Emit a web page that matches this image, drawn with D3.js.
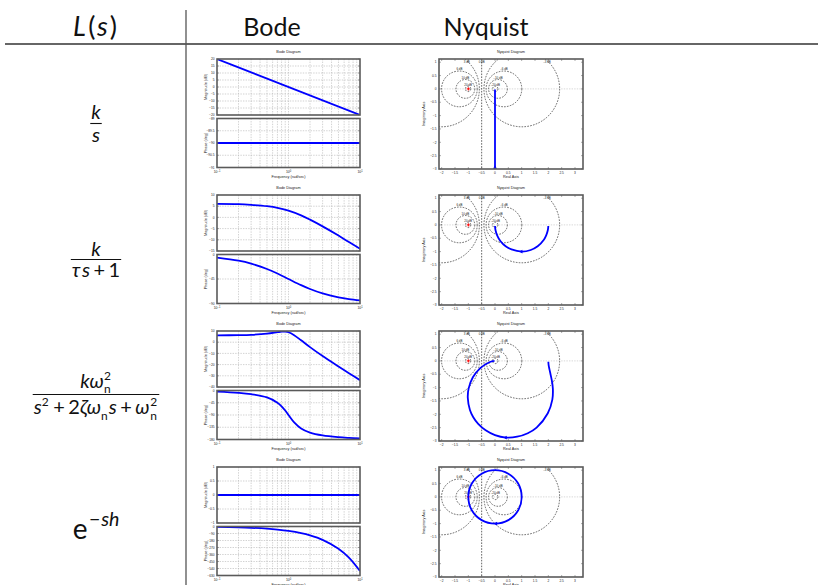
<!DOCTYPE html>
<html>
<head>
<meta charset="utf-8">
<script src="https://cdn.jsdelivr.net/npm/d3@7"></script>
<style>
  html, body { margin: 0; padding: 0; background: #fff; }
  svg { display: block; }
</style>
</head>
<body>
<svg id="chart" width="818" height="585"></svg>
<script>
// ---------- table header ----------
const headerLabels = ["Bode", "Nyquist"];

// ---------- Bode data (frequency in rad/s, magnitude in dB, phase in deg) ----------
const wEnds = [0.1, 10];
const magIntegrator = [20, -20];
const phaseIntegrator = [-90, -90];

const wLag = [0.1, 0.2, 0.3, 0.5, 0.7, 1, 1.5, 2, 3, 5, 7, 10];
const magLag = [6.0, 5.9, 5.6, 5.0, 4.3, 3.0, 0.9, -1.0, -4.0, -8.1, -11.0, -14.0];
const phaseLag = [-5.7, -11.3, -16.7, -26.6, -35.0, -45.0, -56.3, -63.4, -71.6, -78.7, -81.9, -84.3];

const wSecond = [0.1, 0.2, 0.3, 0.5, 0.7, 0.8, 0.9, 1, 1.2, 1.5, 2, 3, 5, 7, 10];
const magSecond = [6.1, 6.3, 6.6, 7.6, 8.9, 9.4, 9.4, 8.9, 6.3, 1.7, -4.4, -12.4, -21.7, -27.7, -33.9];
const phaseSecond = [-4.2, -8.5, -13.4, -25.6, -44.7, -58.0, -73.7, -90.0, -117.0, -139.2, -154.4, -164.9, -171.5, -174.0, -175.8];

const magDelay = [0, 0];
const wDelay = [0.1, 0.2, 0.3, 0.5, 0.7, 1, 1.5, 2, 3, 5, 7, 10];
const phaseDelay = [-5.7, -11.5, -17.2, -28.6, -40.1, -57.3, -85.9, -114.6, -171.9, -286.5, -401.1, -573.0];

// axis ranges and ticks of each Bode panel
const magDomains = [[-20, 20], [-15, 10], [-40, 10], [-1, 1]];
const magTicks = [[-20, -15, -10, -5, 0, 5, 10, 15, 20], [-15, -10, -5, 0, 5, 10], [-40, -30, -20, -10, 0, 10], [-1, -0.5, 0, 0.5, 1]];
const phaseDomains = [[-91, -89], [-90, 0], [-180, 0], [-630, 0]];
const phaseTicks = [[-91, -90.5, -90, -89.5, -89], [-90, -45, 0], [-180, -135, -90, -45, 0], [-630, -540, -450, -360, -270, -180, -90, 0]];
const freqTickExp = [-1, 0, 1];

// ---------- Nyquist data (real, imaginary) ----------
const nyqIntegratorRe = [0, 0];
const nyqIntegratorIm = [-0.02, -3.2];

const nyqLagRe = [2.0, 1.98, 1.92, 1.84, 1.6, 1.34, 1.0, 0.62, 0.4, 0.2, 0.08, 0.02, 0.0];
const nyqLagIm = [-0.04, -0.2, -0.39, -0.55, -0.8, -0.94, -1.0, -0.92, -0.8, -0.6, -0.39, -0.2, -0.04];

const nyqSecondRe = [2.0, 2.01, 2.04, 2.08, 2.13, 2.17, 2.15, 1.98, 1.56, 1.23, 0.83, 0.41, 0.0, -0.35, -0.63, -0.82, -0.94, -1.02, -0.99, -0.83, -0.54, -0.23, -0.08, -0.02];
const nyqSecondIm = [-0.03, -0.15, -0.31, -0.49, -0.73, -1.04, -1.45, -1.96, -2.5, -2.71, -2.84, -2.87, -2.78, -2.6, -2.36, -2.1, -1.84, -1.39, -1.04, -0.61, -0.26, -0.06, -0.01, 0.0];

const nyqDelayRe = [1, 0.87, 0.5, 0, -0.5, -0.87, -1, -0.87, -0.5, 0, 0.5, 0.87];
const nyqDelayIm = [0, -0.5, -0.87, -1, -0.87, -0.5, 0, 0.5, 0.87, 1, 0.87, 0.5];

// direction markers on the Nyquist curves: [re, im, direction]
const nyqArrows = [[0, -2.96, "up"], [1.0, -1.0, "left"], [0.41, -2.87, "left"], [0.05, -1.0, "left"]];

// constant closed-loop gain circles (dB)
const mCircleDb = [-20, -10, -6, -3, 0, 3, 6, 10, 20];

const nyqReDomain = [-2.1, 3.3];
const nyqImDomain = [-3, 1.12];
const nyqReTicks = [-2, -1.5, -1, -0.5, 0, 0.5, 1, 1.5, 2, 2.5, 3];
const nyqImTicks = [-3, -2.5, -2, -1.5, -1, -0.5, 0, 0.5, 1];

// ---------- layout ----------
const svg = d3.select("#chart");
const W = 818, H = 585;
const rowTop0 = 59, rowStep = 136;
const bodeX = [217, 360];
const nyqX = [439, 583];
const blue = "#0000ff";
const frame = "#5a5a5a";
const tinyFont = "'Liberation Sans', Arial, sans-serif";
const mathFont = "Lato, 'Open Sans', sans-serif";

const zip = (a, b) => a.map((v, i) => [v, b[i]]);

const rows = [
  { mag: zip(wEnds, magIntegrator), phase: zip(wEnds, phaseIntegrator), nyq: zip(nyqIntegratorRe, nyqIntegratorIm), closed: false },
  { mag: zip(wLag, magLag), phase: zip(wLag, phaseLag), nyq: zip(nyqLagRe, nyqLagIm), closed: false },
  { mag: zip(wSecond, magSecond), phase: zip(wSecond, phaseSecond), nyq: zip(nyqSecondRe, nyqSecondIm), closed: false },
  { mag: zip(wEnds, magDelay), phase: zip(wDelay, phaseDelay), nyq: zip(nyqDelayRe, nyqDelayIm), closed: true }
];

// ---------- table frame ----------
svg.append("line").attr("x1", 5).attr("x2", W).attr("y1", 44).attr("y2", 44)
  .attr("stroke", "#333").attr("stroke-width", 1.3);
svg.append("line").attr("x1", 186).attr("x2", 186).attr("y1", 10).attr("y2", H)
  .attr("stroke", "#555").attr("stroke-width", 1.3);

const headFont = 25;
const hL = svg.append("text").attr("x", 95).attr("y", 36).attr("text-anchor", "middle")
  .attr("font-family", mathFont).attr("font-size", 27).attr("fill", "#111");
hL.append("tspan").attr("font-style", "italic").text("L");
hL.append("tspan").attr("dx", 2.5).text("(");
hL.append("tspan").attr("dx", 1.5).attr("font-style", "italic").text("s");
hL.append("tspan").attr("dx", 2).text(")");
svg.selectAll("text.head").data(headerLabels).join("text").attr("class", "head")
  .attr("x", (d, i) => [272, 486][i]).attr("y", 36).attr("text-anchor", "middle")
  .attr("font-family", mathFont).attr("font-size", headFont).attr("fill", "#111")
  .text(d => d);

// ---------- math typesetting ----------
// Each formula is one <text>; its pieces are tspans placed at absolute positions.
// piece: {t, it, lpad, pad, rise, scale} or stacked scripts {sup, sub}
function layoutPieces(text, pieces, size, supRise, subDrop) {
  let x = 0;
  const spans = [];
  const ss = 0.6;
  const add = (str, italic, fs) => text.append("tspan").attr("font-size", fs)
    .attr("font-style", italic ? "italic" : "normal").text(str);
  pieces.forEach(p => {
    if (p.sup !== undefined || p.sub !== undefined) {
      let w = 0;
      if (p.sup !== undefined) {
        const ts = add(p.sup, false, size * ss);
        w = Math.max(w, ts.node().getComputedTextLength());
        spans.push({ ts, rx: x, dy: -size * (supRise || 0.42) });
      }
      if (p.sub !== undefined) {
        const ts = add(p.sub, false, size * ss);
        w = Math.max(w, ts.node().getComputedTextLength());
        spans.push({ ts, rx: x, dy: size * (subDrop || 0.26) });
      }
      x += w + 1;
    } else {
      x += p.lpad || 0;
      const ts = add(p.t, p.it, size * (p.scale || 1));
      spans.push({ ts, rx: x, dy: -(p.rise || 0) * size });
      x += ts.node().getComputedTextLength() + (p.pad || 0);
    }
  });
  return { width: x, place: (x0, base) => spans.forEach(s => s.ts.attr("x", x0 + s.rx).attr("y", base + s.dy)) };
}

function fraction(cx, barY, num, den, size, numUp, denDown, denSupRise) {
  const text = svg.append("text").attr("font-family", mathFont).attr("fill", "#111");
  const n = layoutPieces(text, num, size);
  const d = layoutPieces(text, den, size, denSupRise, 0.32);
  n.place(cx - n.width / 2, barY - numUp);
  d.place(cx - d.width / 2, barY + denDown);
  const wBar = Math.max(n.width, d.width) + 2;
  svg.append("line").attr("x1", cx - wBar / 2).attr("x2", cx + wBar / 2)
    .attr("y1", barY).attr("y2", barY).attr("stroke", "#111").attr("stroke-width", 1.1);
}

const plus = { t: "+", lpad: 3.5, pad: 3.5 };
const mathSize = 20;
fraction(96, 123.5, [{ t: "k", it: true }], [{ t: "s", it: true }], mathSize, 4.5, 18);
fraction(96, 259.5, [{ t: "k", it: true }],
  [{ t: "τ", it: true, pad: 1.5 }, { t: "s", it: true }, plus, { t: "1" }], mathSize, 4, 17.5);
fraction(96, 394.5,
  [{ t: "kω", it: true }, { sup: "2", sub: "n" }],
  [{ t: "s", it: true }, { sup: "2" }, plus, { t: "2" }, { t: "ζω", it: true }, { sub: "n" }, { t: "s", it: true }, plus, { t: "ω", it: true, pad: 0.8 }, { sup: "2", sub: "n" }],
  mathSize, 6.5, 19, 0.36);
{
  const text = svg.append("text").attr("font-family", mathFont).attr("fill", "#111");
  const e = layoutPieces(text, [
    { t: "e", pad: 1.5 },
    { t: "−", rise: 0.46, scale: 0.7, pad: 0.8 },
    { t: "sh", it: true, rise: 0.46, scale: 0.7 }
  ], 28);
  e.place(96 - e.width / 2, 539);
}

// ---------- Bode plots ----------
const xLog = d3.scaleLog().domain([0.1, 10]).range(bodeX);
const minorFreqs = [];
[0.1, 1].forEach(dec => { for (let k = 2; k <= 9; k++) minorFreqs.push(dec * k); });
minorFreqs.push(1);

function tinyText(g, x, y, txt, anchor, size) {
  return g.append("text").attr("x", x).attr("y", y).attr("text-anchor", anchor || "middle")
    .attr("font-family", tinyFont).attr("font-size", size || 3.6).attr("fill", "#222").text(txt);
}

function fmt(v) { return String(v).replace("-", "−"); }

function drawPanel(g, y0, y1, domain, ticks, data, ylabel, showX) {
  const y = d3.scaleLinear().domain(domain).range([y1, y0]);
  const clipId = "clip" + Math.round(y0) + "_" + bodeX[0];
  g.append("clipPath").attr("id", clipId).append("rect")
    .attr("x", bodeX[0]).attr("y", y0).attr("width", bodeX[1] - bodeX[0]).attr("height", y1 - y0);
  g.append("rect").attr("x", bodeX[0]).attr("y", y0).attr("width", bodeX[1] - bodeX[0]).attr("height", y1 - y0).attr("fill", "#fff");
  // grid
  g.selectAll(null).data(minorFreqs).join("line")
    .attr("x1", d => xLog(d)).attr("x2", d => xLog(d)).attr("y1", y0).attr("y2", y1)
    .attr("stroke", "#b4b4b4").attr("stroke-width", 0.6).attr("stroke-dasharray", "1.4,1.2");
  g.selectAll(null).data(ticks.filter(t => t > domain[0] && t < domain[1])).join("line")
    .attr("x1", bodeX[0]).attr("x2", bodeX[1]).attr("y1", d => y(d)).attr("y2", d => y(d))
    .attr("stroke", "#b4b4b4").attr("stroke-width", 0.6).attr("stroke-dasharray", "1.4,1.2");
  // curve
  g.append("path").datum(data).attr("clip-path", `url(#${clipId})`)
    .attr("d", d3.line().x(d => xLog(d[0])).y(d => y(d[1])).curve(d3.curveCatmullRom.alpha(0.5)))
    .attr("fill", "none").attr("stroke", blue).attr("stroke-width", 1.8);
  // ticks
  ticks.forEach(t => {
    g.append("line").attr("x1", bodeX[0]).attr("x2", bodeX[0] + 2).attr("y1", y(t)).attr("y2", y(t)).attr("stroke", frame).attr("stroke-width", 0.5);
    g.append("line").attr("x1", bodeX[1]).attr("x2", bodeX[1] - 2).attr("y1", y(t)).attr("y2", y(t)).attr("stroke", frame).attr("stroke-width", 0.5);
    tinyText(g, bodeX[0] - 2.5, y(t) + 1.2, fmt(t), "end", 3.2);
  });
  // frame
  g.append("rect").attr("x", bodeX[0]).attr("y", y0).attr("width", bodeX[1] - bodeX[0]).attr("height", y1 - y0)
    .attr("fill", "none").attr("stroke", frame).attr("stroke-width", 1.6);
  // y label
  g.append("text").attr("transform", `translate(${207},${(y0 + y1) / 2}) rotate(-90)`)
    .attr("text-anchor", "middle").attr("font-family", tinyFont).attr("font-size", 3.8).attr("fill", "#222").text(ylabel);
  if (showX) {
    freqTickExp.forEach(e => {
      const t = g.append("text").attr("x", xLog(Math.pow(10, e))).attr("y", y1 + 5.5).attr("text-anchor", "middle")
        .attr("font-family", tinyFont).attr("font-size", 3.4).attr("fill", "#222");
      t.append("tspan").text("10");
      t.append("tspan").attr("dy", -1.5).attr("font-size", 2.6).text(fmt(e));
    });
  }
}

rows.forEach((r, i) => {
  const T = rowTop0 + i * rowStep;
  const g = svg.append("g");
  tinyText(g, (bodeX[0] + bodeX[1]) / 2, T - 6, "Bode Diagram", "middle", 3.8);
  drawPanel(g, T, T + 56, magDomains[i], magTicks[i], r.mag, "Magnitude (dB)", false);
  drawPanel(g, T + 59.5, T + 108.5, phaseDomains[i], phaseTicks[i], r.phase, "Phase (deg)", true);
  tinyText(g, (bodeX[0] + bodeX[1]) / 2, T + 118.5, "Frequency  (rad/sec)", "middle", 3.8);
});

// ---------- Nyquist plots ----------
const xRe = d3.scaleLinear().domain(nyqReDomain).range(nyqX);

rows.forEach((r, i) => {
  const T = rowTop0 + i * rowStep;
  const yIm = d3.scaleLinear().domain(nyqImDomain).range([T + 110, T]);
  const g = svg.append("g");
  const clipId = "nclip" + i;
  g.append("clipPath").attr("id", clipId).append("rect")
    .attr("x", nyqX[0]).attr("y", T).attr("width", nyqX[1] - nyqX[0]).attr("height", 110);
  tinyText(g, (nyqX[0] + nyqX[1]) / 2, T - 6, "Nyquist Diagram", "middle", 3.8);
  tinyText(g, (nyqX[0] + nyqX[1]) / 2, T + 118.5, "Real Axis", "middle", 3.8);
  g.append("text").attr("transform", `translate(${425},${T + 55}) rotate(-90)`)
    .attr("text-anchor", "middle").attr("font-family", tinyFont).attr("font-size", 3.8).attr("fill", "#222").text("Imaginary Axis");

  const grid = g.append("g").attr("clip-path", `url(#${clipId})`);
  // real axis
  grid.append("line").attr("x1", nyqX[0]).attr("x2", nyqX[1]).attr("y1", yIm(0)).attr("y2", yIm(0))
    .attr("stroke", "#bdbdbd").attr("stroke-width", 0.6).attr("stroke-dasharray", "1.4,1.2");
  const kx = (xRe(1) - xRe(0)), ky = (yIm(0) - yIm(1));
  mCircleDb.forEach(db => {
    let lx, ly;
    if (db === 0) {
      grid.append("line").attr("x1", xRe(-0.5)).attr("x2", xRe(-0.5)).attr("y1", T).attr("y2", T + 110)
        .attr("stroke", "#333").attr("stroke-width", 0.75).attr("stroke-dasharray", "1.6,1.3");
      lx = -0.5; ly = 0.94;
    } else {
      const M = Math.pow(10, db / 20);
      const c = -M * M / (M * M - 1), rad = Math.abs(M / (M * M - 1));
      grid.append("ellipse").attr("cx", xRe(c)).attr("cy", yIm(0)).attr("rx", rad * kx).attr("ry", rad * ky)
        .attr("fill", "none").attr("stroke", "#333").attr("stroke-width", 0.75).attr("stroke-dasharray", "1.6,1.3");
      if (rad < 0.94) { lx = c; ly = rad; }
      else { ly = 0.94; lx = c + Math.sqrt(rad * rad - ly * ly) - 0.12; }
    }
    tinyText(g, xRe(lx), yIm(ly) - 0.6, fmt(db) + " dB", "middle", 2.9);
  });
  // critical point
  g.append("path").attr("d", `M${xRe(-1) - 1.6},${yIm(0)}h3.2M${xRe(-1)},${yIm(0) - 1.6}v3.2`)
    .attr("stroke", "#ff0000").attr("stroke-width", 1);
  // curve
  const line = d3.line().x(d => xRe(d[0])).y(d => yIm(d[1]))
    .curve(r.closed ? d3.curveCatmullRomClosed.alpha(0.5) : d3.curveCatmullRom.alpha(0.5));
  g.append("path").datum(r.nyq).attr("clip-path", `url(#${clipId})`).attr("d", line)
    .attr("fill", "none").attr("stroke", blue).attr("stroke-width", 1.8);
  // direction marker
  const a = nyqArrows[i];
  const ax = xRe(a[0]), ay = yIm(a[1]);
  const tri = a[2] === "up" ? `M${ax},${ay - 2.6}L${ax - 1.9},${ay + 0.8}L${ax + 1.9},${ay + 0.8}Z`
    : `M${ax - 2.6},${ay}L${ax + 0.8},${ay - 1.9}L${ax + 0.8},${ay + 1.9}Z`;
  g.append("path").attr("d", tri).attr("fill", blue);
  // ticks
  nyqReTicks.forEach(t => {
    g.append("line").attr("x1", xRe(t)).attr("x2", xRe(t)).attr("y1", T + 110).attr("y2", T + 108).attr("stroke", frame).attr("stroke-width", 0.5);
    g.append("line").attr("x1", xRe(t)).attr("x2", xRe(t)).attr("y1", T).attr("y2", T + 2).attr("stroke", frame).attr("stroke-width", 0.5);
    tinyText(g, xRe(t), T + 114.5, fmt(t), "middle", 3.2);
  });
  nyqImTicks.forEach(t => {
    g.append("line").attr("x1", nyqX[0]).attr("x2", nyqX[0] + 2).attr("y1", yIm(t)).attr("y2", yIm(t)).attr("stroke", frame).attr("stroke-width", 0.5);
    g.append("line").attr("x1", nyqX[1]).attr("x2", nyqX[1] - 2).attr("y1", yIm(t)).attr("y2", yIm(t)).attr("stroke", frame).attr("stroke-width", 0.5);
    tinyText(g, nyqX[0] - 2.5, yIm(t) + 1.2, fmt(t), "end", 3.2);
  });
  g.append("rect").attr("x", nyqX[0]).attr("y", T).attr("width", nyqX[1] - nyqX[0]).attr("height", 110)
    .attr("fill", "none").attr("stroke", frame).attr("stroke-width", 1.6);
});
</script>
</body>
</html>
